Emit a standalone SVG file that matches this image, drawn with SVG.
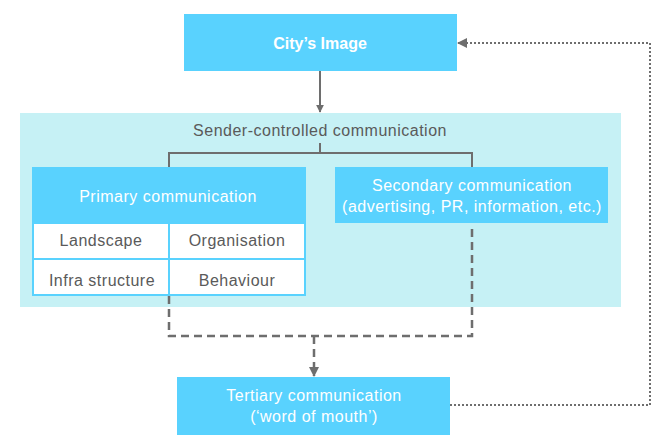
<svg xmlns="http://www.w3.org/2000/svg" width="663" height="442" viewBox="0 0 663 442">
<defs>
<style>
.t{font-family:"Liberation Sans",Arial,sans-serif;font-size:16px;letter-spacing:0.5px;text-anchor:middle}
.w{fill:#ffffff}
.g{fill:#5a5a5a}
.blue{fill:#59D2FE}
.cell{fill:#ffffff}
.ln{fill:none;stroke:#6e6e6e;stroke-width:2}
.dash{fill:none;stroke:#6e6e6e;stroke-width:2.5;stroke-dasharray:8 5}
.dot{fill:none;stroke:#6e6e6e;stroke-width:2;stroke-dasharray:2 2}
</style>
<marker id="ah" viewBox="0 0 10 10" refX="9" refY="5" markerWidth="4" markerHeight="4" orient="auto" markerUnits="strokeWidth">
<path d="M0,0 L10,5 L0,10 z" fill="#6e6e6e"/>
</marker>
<marker id="ah2" viewBox="0 0 10 10" refX="9" refY="5" markerWidth="5" markerHeight="5" orient="auto" markerUnits="strokeWidth">
<path d="M0,0 L10,5 L0,10 z" fill="#6e6e6e"/>
</marker>
</defs>
<rect x="0" y="0" width="663" height="442" fill="#ffffff"/>

<g id="sender">
<rect x="20" y="113" width="601" height="194" fill="#C6F1F5"/>
<text class="t g" x="320" y="136">Sender-controlled communication</text>
</g>

<g id="connectors">
<line class="ln" x1="320" y1="71" x2="320" y2="112" marker-end="url(#ah)"/>
<path class="ln" d="M320,143 V153 M169,167 V153 H472 V167"/>
<path class="dash" d="M169,296 V336 H472 V224"/>
<line class="dash" x1="314" y1="336" x2="314" y2="376" marker-end="url(#ah)"/>
<path class="dot" d="M450,405 H650 V43 H458" marker-end="url(#ah2)"/>
</g>

<g id="city">
<rect class="blue" x="184" y="14" width="273" height="57"/>
<text class="t w" x="320" y="49" style="font-weight:bold;letter-spacing:0">City’s Image</text>
</g>

<g id="primary">
<rect class="blue" x="32" y="167" width="274" height="129"/>
<text class="t w" x="168" y="202">Primary communication</text>
<rect class="cell" x="34" y="224" width="134" height="34"/>
<rect class="cell" x="170" y="224" width="134" height="34"/>
<rect class="cell" x="34" y="260" width="134" height="34"/>
<rect class="cell" x="170" y="260" width="134" height="34"/>
<text class="t g" x="101" y="246">Landscape</text>
<text class="t g" x="237" y="246">Organisation</text>
<text class="t g" x="102" y="286">Infra structure</text>
<text class="t g" x="237" y="286">Behaviour</text>
</g>

<g id="secondary">
<rect class="blue" x="335" y="167" width="273" height="56"/>
<text class="t w" x="472" y="191">Secondary communication</text>
<text class="t w" x="472" y="212">(advertising, PR, information, etc.)</text>
</g>

<g id="tertiary">
<rect class="blue" x="177" y="377" width="273" height="58"/>
<text class="t w" x="314" y="401">Tertiary communication</text>
<text class="t w" x="314" y="422">(‘word of mouth’)</text>
</g>
</svg>
